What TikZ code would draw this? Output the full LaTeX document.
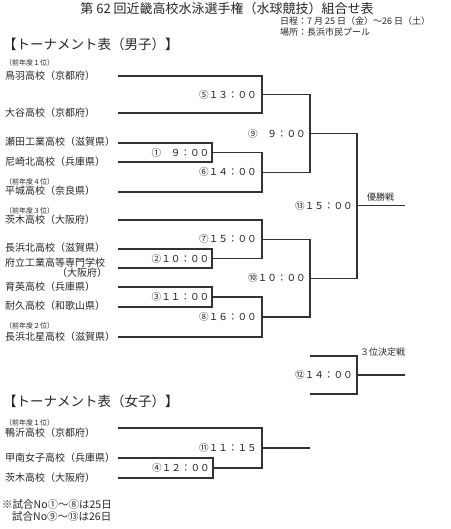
\documentclass[tikz,border=0pt]{standalone}
\usepackage{fontspec}
\setmainfont{Noto Sans CJK JP}
\begin{document}
\begin{tikzpicture}[x=1pt,y=-1pt,
  br/.style={draw=black!80,line width=1.1pt},
  team/.style={anchor=west,inner sep=0pt,font=\fontsize{10}{11}\selectfont,text=black!85},
  prev/.style={anchor=west,inner sep=0pt,font=\fontsize{7}{8}\selectfont,text=black!85},
  tm/.style={anchor=east,inner sep=0pt,font=\fontsize{9.6}{10}\selectfont,text=black!90},
  head/.style={anchor=west,inner sep=0pt,font=\fontsize{13.5}{14}\selectfont,text=black!85},
  info/.style={anchor=west,inner sep=0pt,font=\fontsize{9}{9.5}\selectfont,text=black!85},
  note/.style={anchor=west,inner sep=0pt,font=\fontsize{10.5}{11}\selectfont,text=black!85}]
\useasboundingbox (0,0) rectangle (450,529);
% titles
\node[inner sep=0pt,font=\fontsize{13}{13.5}\selectfont,text=black!85] (title) at (227,8.5) {第 62 回近畿高校水泳選手権（水球競技）組合せ表};
\node[info] (date) at (280,21) {日程：7 月 25 日（金）～26 日（土）};
\node[info] (place) at (280,32) {場所：長浜市民プール};
\node[head] (hm) at (3,44) {【トーナメント表（男子）】};
\node[head] (hw) at (3,401) {【トーナメント表（女子）】};
% team names
\node[prev] (p1) at (5,63) {（前年度１位）};
\node[team] (n1) at (5,75.5) {鳥羽高校（京都府）};
\node[team] (n2) at (5,113) {大谷高校（京都府）};
\node[team] (n3) at (5,142) {瀬田工業高校（滋賀県）};
\node[team] (n4) at (5,162) {尼崎北高校（兵庫県）};
\node[prev] (p4) at (5,182) {（前年度４位）};
\node[team] (n5) at (5,191) {平城高校（奈良県）};
\node[prev] (p3) at (5,211) {（前年度３位）};
\node[team] (n6) at (5,220) {茨木高校（大阪府）};
\node[team] (n7) at (5,248) {長浜北高校（滋賀県）};
\node[team] (n8) at (5,263) {府立工業高等専門学校};
\node[team] (n8b) at (57,273) {（大阪府）};
\node[team] (n9) at (5,287) {育英高校（兵庫県）};
\node[team] (n10) at (5,306) {耐久高校（和歌山県）};
\node[prev] (p2) at (5,326) {（前年度２位）};
\node[team] (n11) at (5,337) {長浜北星高校（滋賀県）};
\node[prev] (pw) at (5,423) {（前年度１位）};
\node[team] (w1n) at (5,433) {鴨沂高校（京都府）};
\node[team] (w2n) at (5,458) {甲南女子高校（兵庫県）};
\node[team] (w3n) at (5,478) {茨木高校（大阪府）};
% line starts
\coordinate (s1) at (118,76);
\coordinate (s2) at (118,113);
\coordinate (s3) at (118,143);
\coordinate (s4) at (118,162);
\coordinate (s5) at (118,192);
\coordinate (s6) at (118,220);
\coordinate (s7) at (118,249);
\coordinate (s8) at (118,268);
\coordinate (s9) at (118,287);
\coordinate (s10) at (118,307);
\coordinate (s11) at (118,337);
\coordinate (w1) at (118,428);
\coordinate (w2) at (118,458);
\coordinate (w3) at (118,478);
% junctions
\coordinate (j1) at (212,152.5);
\coordinate (j2) at (212,258.5);
\coordinate (j3) at (212,297);
\coordinate (j4) at (213,468);
\coordinate (j5) at (262,94.5);
\coordinate (j6) at (262,172.25);
\coordinate (j7) at (262,239.25);
\coordinate (j8) at (262,317);
\coordinate (j11) at (262,448);
\coordinate (j9) at (310,133.4);
\coordinate (j10) at (310,278.1);
\coordinate (j13) at (357,205.7);
\coordinate (e13) at (405,205.7);
\coordinate (q1) at (310,356);
\coordinate (q2) at (310,394);
\coordinate (j12) at (357,375);
\coordinate (e12) at (405,375);
\coordinate (e11) at (310,448);
% brackets
\draw[br] (s3) -| (j1) |- (s4);
\draw[br] (s7) -| (j2) |- (s8);
\draw[br] (s9) -| (j3) |- (s10);
\draw[br] (s1) -| (j5) |- (s2);
\draw[br] (j1) -| (j6) |- (s5);
\draw[br] (s6) -| (j7) |- (j2);
\draw[br] (j3) -| (j8) |- (s11);
\draw[br] (j5) -| (j9) |- (j6);
\draw[br] (j7) -| (j10) |- (j8);
\draw[br] (j9) -| (j13) |- (j10);
\draw[br] (j13) -- (e13);
\draw[br] (q1) -| (j12) |- (q2);
\draw[br] (j12) -- (e12);
\draw[br] (w2) -| (j4) |- (w3);
\draw[br] (w1) -| (j11) |- (j4);
\draw[br] (j11) -- (e11);
% time labels
\node[tm] (l1) at ([xshift=-2.5pt]j1) {①　９：００};
\node[tm] (l2) at ([xshift=-2.5pt]j2) {②１０：００};
\node[tm] (l3) at ([xshift=-2.5pt]j3) {③１１：００};
\node[tm] (l4) at ([xshift=-3pt]j4) {④１２：００};
\node[tm] (l5) at ([xshift=-5pt]j5) {⑤１３：００};
\node[tm] (l6) at ([xshift=-5pt]j6) {⑥１４：００};
\node[tm] (l7) at ([xshift=-5pt]j7) {⑦１５：００};
\node[tm] (l8) at ([xshift=-5pt]j8) {⑧１６：００};
\node[tm] (l9) at ([xshift=-4pt]j9) {⑨　９：００};
\node[tm] (l10) at ([xshift=-4pt]j10) {⑩１０：００};
\node[tm] (l11) at ([xshift=-5pt]j11) {⑪１１：１５};
\node[tm] (l12) at ([xshift=-4pt]j12) {⑫１４：００};
\node[tm] (l13) at ([xshift=-4pt]j13) {⑬１５：００};
\node[anchor=west,inner sep=0pt,font=\fontsize{9}{10}\selectfont,text=black!85] (win) at (367,197) {優勝戦};
\node[anchor=west,inner sep=0pt,font=\fontsize{9}{10}\selectfont,text=black!85] (third) at (360,352) {３位決定戦};
% notes
\node[note] (f1) at (2,505) {※試合No①～⑧は25日};
\node[note] (f2) at (12,517) {試合No⑨～⑬は26日};
\end{tikzpicture}
\end{document}
